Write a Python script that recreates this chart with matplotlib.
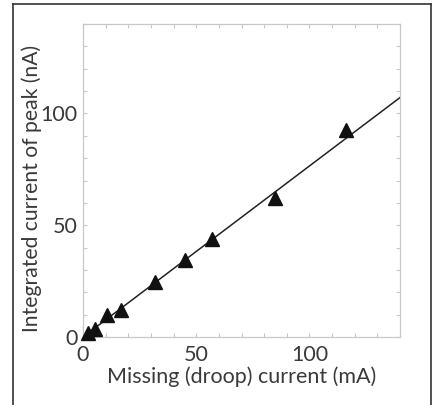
import matplotlib
matplotlib.use("Agg")
import matplotlib.pyplot as plt
from matplotlib.lines import Line2D
from matplotlib.ticker import MultipleLocator
import numpy as np

# Measured points: missing (droop) current vs integrated peak current
droop_mA = [2.3, 5.3, 10.7, 16.6, 31.6, 45.1, 57.0, 84.9, 116.3]
peak_nA = [1.6, 3.5, 9.8, 12.3, 24.5, 34.4, 43.8, 62.0, 92.5]

# Linear fit line
fit_slope = 0.765
fit_intercept = 0.0
fit_x = [0, 140]

x_ticks = [0, 50, 100]
y_ticks = [0, 50, 100]

plt.rcParams['font.family'] = ['Lato', 'DejaVu Sans']
text_col = '#3a3a3a'
spine_col = '#c8c8c8'

fig = plt.figure(figsize=(4.33, 4.05), dpi=100)
ax = fig.add_axes([0.1917, 0.1679, 0.7321, 0.7728])

fx = np.array(fit_x, dtype=float)
ax.plot(fx, fit_slope * fx + fit_intercept, color='#222222', lw=1.1, zorder=2)
ax.plot(droop_mA, peak_nA, linestyle='none', marker='^', ms=10,
        color='#111111', zorder=3, clip_on=False)

ax.set_xlim(0, 140)
ax.set_ylim(0, 140)
ax.set_xticks(x_ticks)
ax.set_yticks(y_ticks)
ax.xaxis.set_minor_locator(MultipleLocator(10))
ax.yaxis.set_minor_locator(MultipleLocator(10))
ax.tick_params(which='both', direction='in', top=True, right=True,
               color=spine_col, width=0.8)
ax.tick_params(which='major', length=3, labelsize=15.5, labelcolor=text_col)
ax.tick_params(axis='x', which='major', pad=6)
ax.tick_params(axis='y', which='major', pad=4)
ax.tick_params(which='minor', length=3)
for s in ax.spines.values():
    s.set_color(spine_col)
    s.set_linewidth(0.9)

ax.set_xlabel('Missing (droop) current (mA)', fontsize=15.5, color=text_col, labelpad=1)
ax.set_ylabel('Integrated current of peak (nA)', fontsize=15.2, color=text_col)
ax.yaxis.set_label_coords(-0.129, 0.476)

# Outer frame around the panel (open at the bottom)
frame_kw = dict(color='#333333', lw=1.2, transform=fig.transFigure)
fig.add_artist(Line2D([13 / 433, 13 / 433], [0, 1 - 4 / 405], **frame_kw))
fig.add_artist(Line2D([13 / 433, 431 / 433], [1 - 4 / 405, 1 - 4 / 405], **frame_kw))
fig.add_artist(Line2D([431 / 433, 431 / 433], [0, 1 - 4 / 405], **frame_kw))

fig.savefig('out.png', dpi=100)
